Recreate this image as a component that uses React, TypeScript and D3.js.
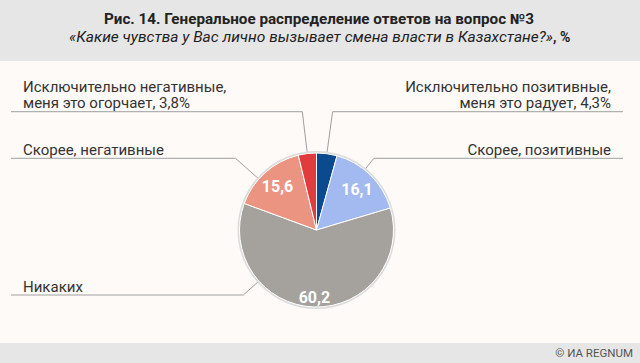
import * as d3 from 'd3';
import React from 'react';

// answer categories, clockwise from 12 o'clock
const categories = [
  'Исключительно позитивные, меня это радует',
  'Скорее, позитивные',
  'Никаких',
  'Скорее, негативные',
  'Исключительно негативные, меня это огорчает',
];
const values = [4.3, 16.1, 60.2, 15.6, 3.8];
const colors = ['#0b4a8e', '#a2baef', '#a5a29e', '#eb9482', '#e03b3d'];

// outside labels (lines of text) and inside value labels
const outerLabels = [
  ['Исключительно позитивные,', 'меня это радует, 4,3%'],
  ['Скорее, позитивные'],
  ['Никаких'],
  ['Скорее, негативные'],
  ['Исключительно негативные,', 'меня это огорчает, 3,8%'],
];
const innerLabels = ['', '16,1', '60,2', '15,6', ''];

const title = 'Рис. 14. Генеральное распределение ответов на вопрос №3';
const subtitle = '«Какие чувства у Вас лично вызывает смена власти в Казахстане?»';

const W = 640;
const H = 363;
const cx = 316.5;
const cy = 230;
const r = 77;

// layout: y of the leader's horizontal line, where on the slice it attaches, label radius
const leaderY = [111.7, 158.3, 295, 158.3, 111.7];
const attachAt = [0.5, 0.4, 0.715, 0.38, 0.5];
const innerR = [0, 0.75, 0.87, 0.76, 0];

const font = 'Roboto, "Open Sans", sans-serif';

const App = () => {
  const pie = d3.pie<number>().sort(null).value((d) => d);
  const arcs = pie(values);
  const arc = d3.arc<d3.PieArcDatum<number>>().innerRadius(0).outerRadius(r);

  return (
    <svg width={W} height={H} style={{ position: 'absolute', left: 0, top: 0, display: 'block' }}>
      <rect width={W} height={H} fill="#fdfaf7" />
      <rect width={W} height={61} fill="#e6e6e6" />
      <rect y={343} width={W} height={H - 343} fill="#e6e6e6" />

      <text x={104} y={24} fontFamily={font} fontSize={14} fontWeight="bold" fill="#222"
        textLength={430} lengthAdjust="spacingAndGlyphs">{title}</text>
      <text x={69} y={41.5} fontFamily={font} fontSize={14} fontStyle="italic" fill="#222"
        textLength={484} lengthAdjust="spacingAndGlyphs">{subtitle}</text>
      <text x={553} y={41.5} fontFamily={font} fontSize={14} fontWeight="bold" fill="#222">, %</text>

      {/* leader lines */}
      {arcs.map((a, i) => {
        const ang = a.startAngle + (a.endAngle - a.startAngle) * attachAt[i];
        const [px, py] = d3.pointRadial(ang, r);
        const dx = Math.sin(ang);
        const dy = -Math.cos(ang);
        const t = (leaderY[i] - (cy + py)) / dy;
        const ex = cx + px + dx * t;
        const endX = i < 2 ? 623 : 11;
        const path = d3.line()([
          [cx + px, cy + py],
          [ex, leaderY[i]],
          [endX, leaderY[i]],
        ]);
        return <path key={'l' + i} d={path || ''} fill="none" stroke="#a0a0a0" strokeWidth={1} />;
      })}

      <g transform={`translate(${cx},${cy})`}>
        <circle r={r + 1} fill="none" stroke="#dcdcdc" strokeWidth={2} />
        {arcs.map((a, i) => (
          <path key={categories[i]} d={arc(a) || ''} fill={colors[i]} stroke="#fff" strokeWidth={1} />
        ))}
        {arcs.map((a, i) => {
          if (!innerLabels[i]) return null;
          const mid = (a.startAngle + a.endAngle) / 2;
          const [x, y] = d3.pointRadial(mid, r * innerR[i]);
          return (
            <text key={'v' + i} x={x} y={y} dy="0.36em" textAnchor="middle" fontFamily={font}
              fontSize={16} fontWeight="bold" fill="#fff">{innerLabels[i]}</text>
          );
        })}
      </g>

      {/* outside labels */}
      {outerLabels.map((lines, i) => {
        const right = i < 2;
        return (
          <text key={'o' + i} x={right ? 611 : 23} textAnchor={right ? 'end' : 'start'}
            fontFamily={font} fontSize={15} fill="#333">
            {lines.map((s, j) => (
              <tspan key={j} x={right ? 611 : 23} y={leaderY[i] - 3.5 - (lines.length - 1 - j) * 16.5}>{s}</tspan>
            ))}
          </text>
        );
      })}

      <text x={633} y={357} textAnchor="end" fontFamily={font} fontSize={11.5} fill="#555">© ИА REGNUM</text>
    </svg>
  );
};

export default App;
